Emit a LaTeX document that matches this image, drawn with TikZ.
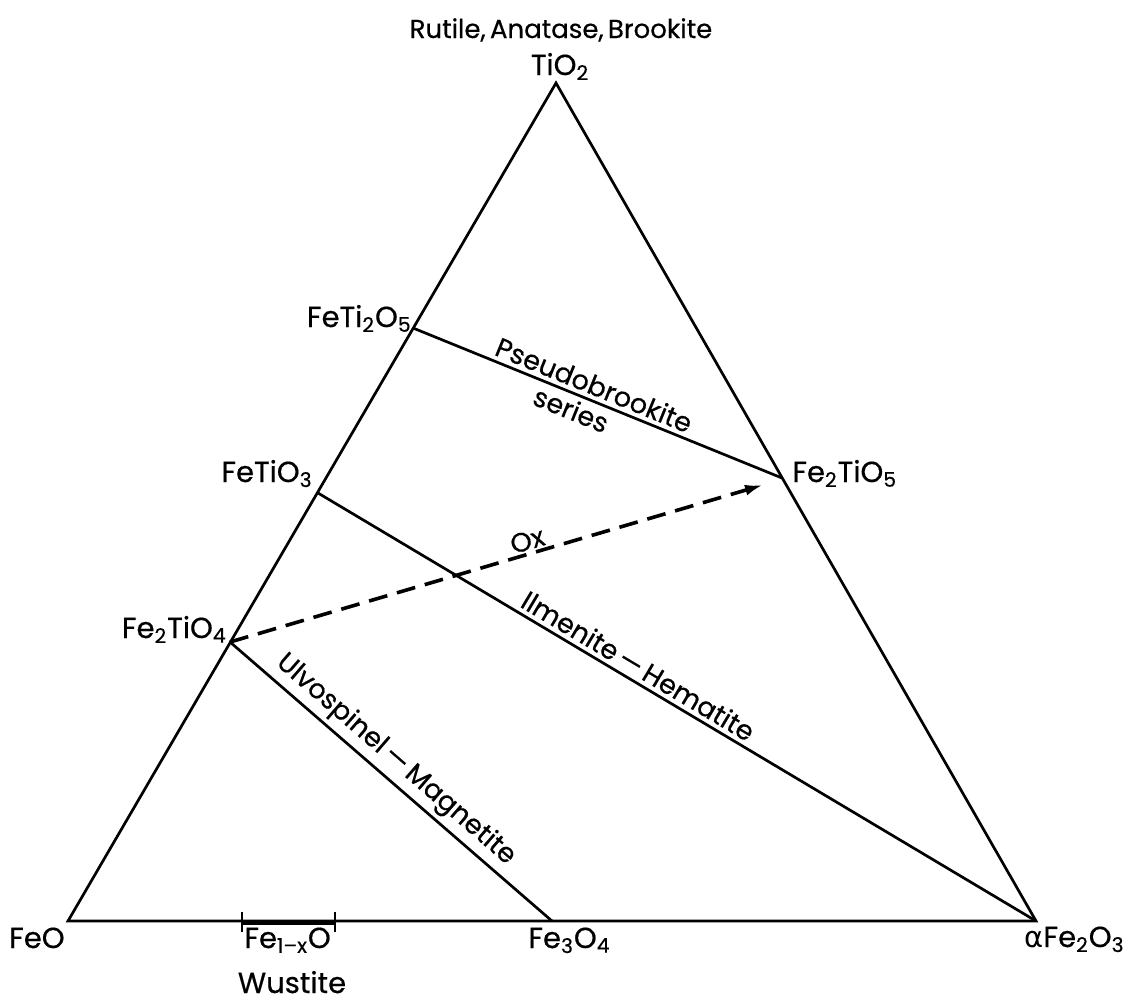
\documentclass[tikz,border=0pt]{standalone}
\usepackage{fontspec}
\setmainfont{Poppins}[UprightFeatures={FakeBold=0.5}]
\newfontfamily\grk{DejaVu Sans}
\usetikzlibrary{arrows.meta,calc}
\tikzset{
  edge/.style={line width=1.35pt, line join=miter},
  dashedge/.style={line width=1.8pt, dash pattern=on 9.5pt off 5pt, -{Latex[length=9pt,width=5.5pt]}},
  lbl/.style={font=\fontsize{14.5}{17}\selectfont, inner sep=0pt},
  toplbl/.style={font=\fontsize{13}{15}\selectfont, inner sep=0pt},
  tielbl/.style={font=\fontsize{13.5}{16}\selectfont, inner sep=2pt, sloped},
}
\begin{document}
\begin{tikzpicture}[x=0.5pt,y=-0.5pt]
\useasboundingbox (0,0) rectangle (1129,1007);
% corners and points
\coordinate (Ti) at (556,83);
\coordinate (FeO) at (68,921);
\coordinate (Hem) at (1036,921);
\coordinate (FT2) at (413,328);
\coordinate (FT) at (318,493);
\coordinate (F2T) at (230,642);
\coordinate (F2T5) at (782,478);
\coordinate (Mag) at (552,921);
\coordinate (w1) at (242,921);
\coordinate (w2) at (335,921);
\coordinate (arrowend) at (763,485);
% triangle
\draw[edge] (FeO) -- (Ti) -- (Hem) -- cycle;
% tie lines
\draw[edge] (FT2) -- node[tielbl, pos=0.475, above] (pb) {Pseudobrookite}
                     node[tielbl, pos=0.445, below] (ser) {series} (F2T5);
\draw[edge] (FT) -- node[tielbl, pos=0.435, above] (ih) {Ilmenite\,—\,Hematite} (Hem);
\draw[edge] (F2T) -- node[tielbl, pos=0.475, above] (um) {Ulvospinel\,—\,Magnetite} (Mag);
% oxidation arrow
\draw[dashedge] (F2T) -- node[tielbl, pos=0.565, above, inner sep=1pt] (ox) {Ox} (arrowend);
% wustite range
\draw[line width=2.4pt] ($(w1)+(0,1.5)$) -- ($(w2)+(0,1.5)$);
\draw[edge, line width=1.2pt] ($(w1)+(0,-9)$) -- ($(w1)+(0,11)$);
\draw[edge, line width=1.2pt] ($(w2)+(0,-9)$) -- ($(w2)+(0,11)$);
% labels
\node[toplbl, anchor=base] (rab) at (561,38) {Rutile,\,Anatase,\,Brookite};
\node[lbl, anchor=base] (tio2) at (560,75) {TiO\textsubscript{2}};
\node[lbl, anchor=base east] (lft2) at (412,327) {FeTi\textsubscript{2}O\textsubscript{5}};
\node[lbl, anchor=base east] (lft) at (313,482) {FeTiO\textsubscript{3}};
\node[lbl, anchor=base east] (lf2t) at (227,638) {Fe\textsubscript{2}TiO\textsubscript{4}};
\node[lbl, anchor=base west] (lf2t5) at (792,482) {Fe\textsubscript{2}TiO\textsubscript{5}};
\node[lbl, anchor=base east] (lfeo) at (65,948) {FeO};
\node[lbl, anchor=base west] (lhem) at (1024,947) {{\grk α}Fe\textsubscript{2}O\textsubscript{3}};
\node[lbl, anchor=base west] (lmag) at (528,948) {Fe\textsubscript{3}O\textsubscript{4}};
\node[lbl, anchor=base west] (lfex) at (244,948) {Fe\textsubscript{1–x}O};
\node[lbl, anchor=base] (lwus) at (292,993) {Wustite};
\end{tikzpicture}
\end{document}
